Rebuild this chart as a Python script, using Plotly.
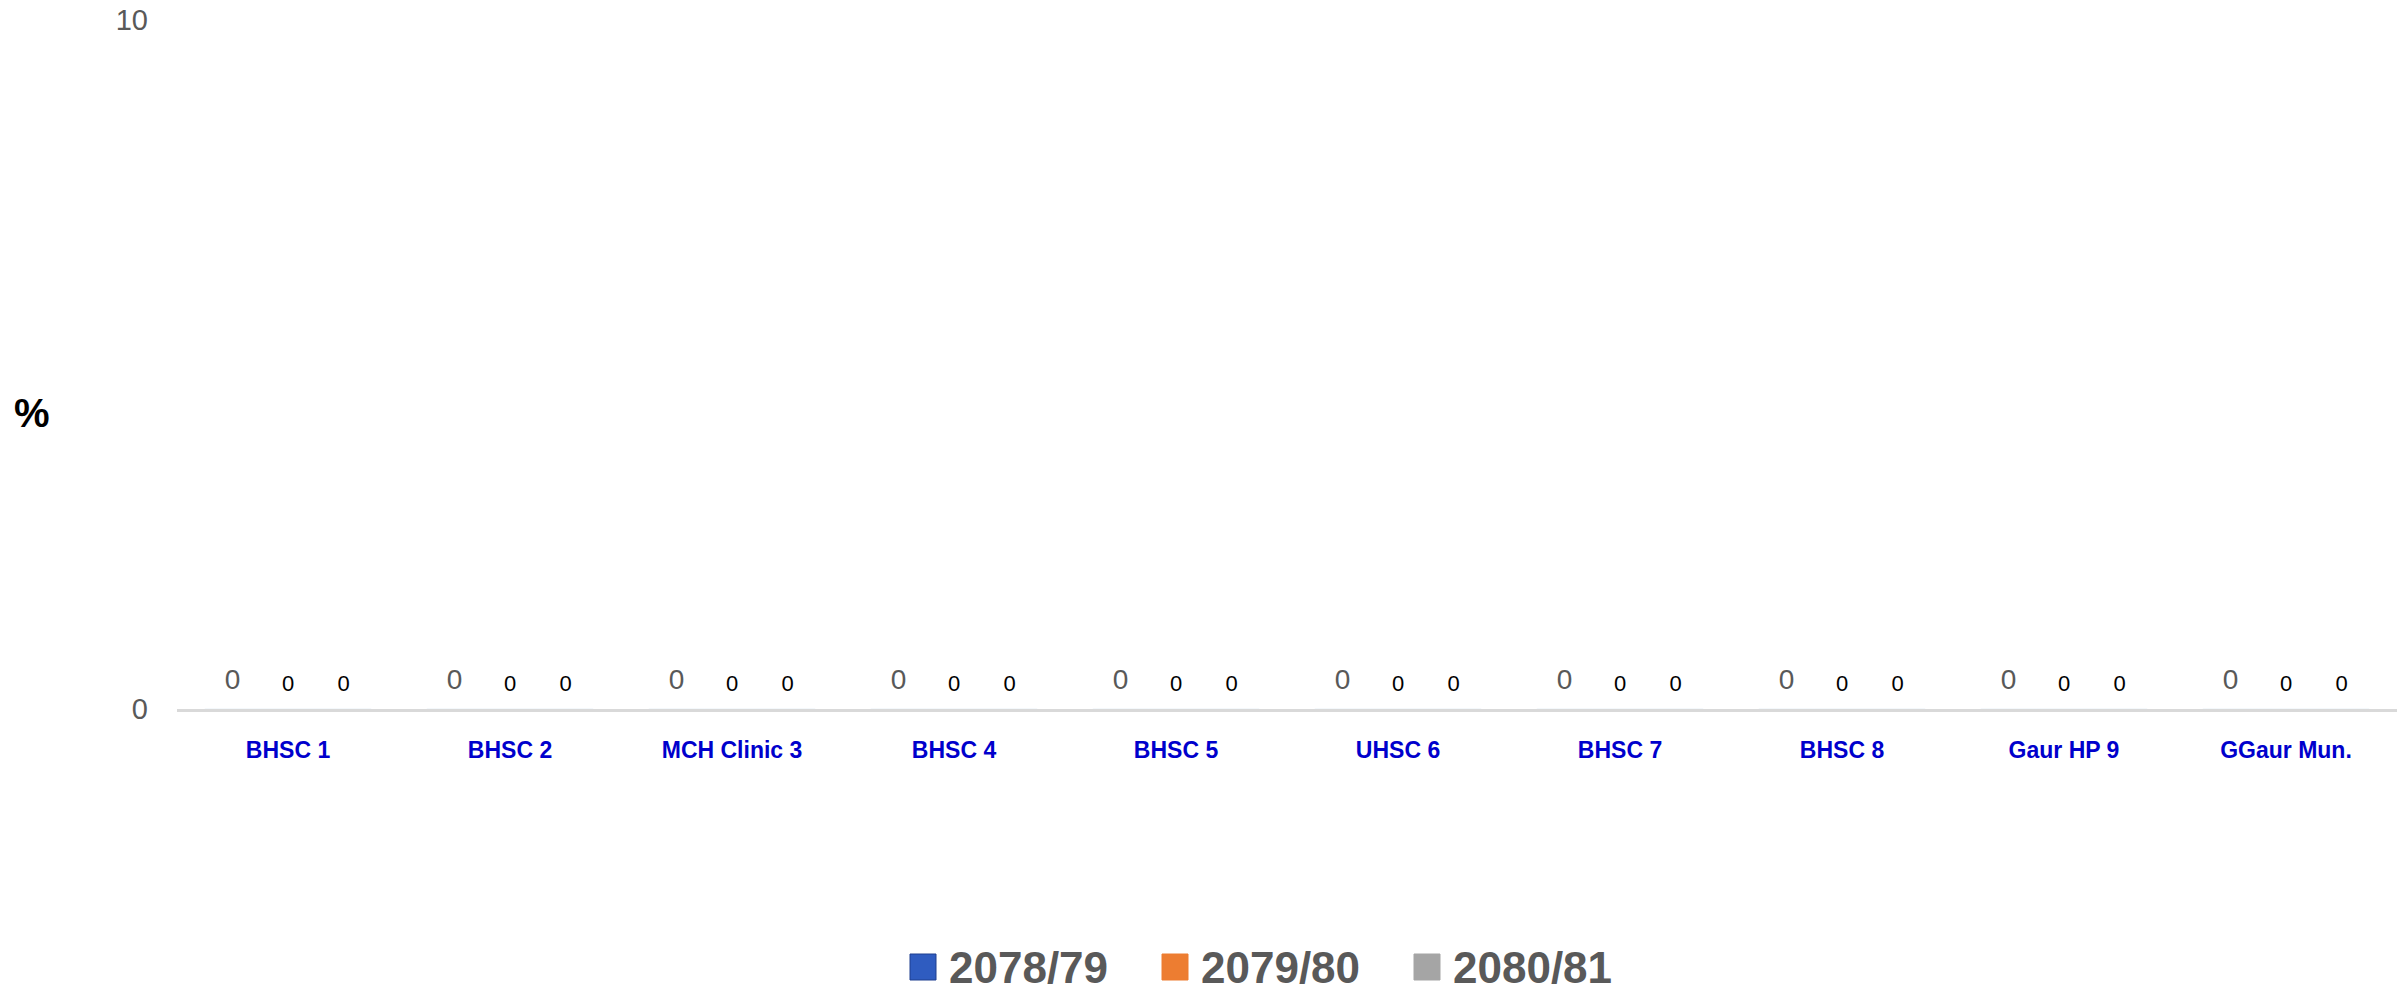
import plotly.graph_objects as go

# Facilities on the x axis
CATEGORIES = [
    "BHSC 1", "BHSC 2", "MCH Clinic 3", "BHSC 4", "BHSC 5",
    "UHSC 6", "BHSC 7", "BHSC 8", "Gaur HP 9", "GGaur Mun.",
]
YEARS = ["2078/79", "2079/80", "2080/81"]
VALUES_7879 = [0, 0, 0, 0, 0, 0, 0, 0, 0, 0]
VALUES_7980 = [0, 0, 0, 0, 0, 0, 0, 0, 0, 0]
VALUES_8081 = [0, 0, 0, 0, 0, 0, 0, 0, 0, 0]

COLORS = ["#2F5CC0", "#ED7D31", "#A5A5A5"]
LABEL_FONTS = [
    dict(size=28, color="#595959"),
    dict(size=22, color="#000000"),
    dict(size=22, color="#000000"),
]

FONT = "Liberation Sans"
GAP = 0.25

# the page body has an 8px margin, so the figure is 8px smaller and
# all pixel positions below are relative to the figure's own corner
OFF = 8
W, H = 2407 - OFF, 994 - OFF
L, R, T, B = 177 - OFF, 10, 20 - OFF, 285
PW, PH = W - L - R, H - T - B

fig = go.Figure()
series = [VALUES_7879, VALUES_7980, VALUES_8081]
for name, vals, color in zip(YEARS, series, COLORS):
    fig.add_trace(go.Bar(
        x=CATEGORIES, y=vals, name=name,
        marker_color=color, showlegend=False,
    ))
# data labels, grouped like the bars and lifted a little off the axis
for name, vals, lf in zip(YEARS, series, LABEL_FONTS):
    fig.add_trace(go.Scatter(
        x=CATEGORIES, y=vals, name=name,
        mode="markers+text", text=vals, textposition="top center",
        marker=dict(size=19, opacity=0),
        textfont=dict(family=FONT, **lf),
        cliponaxis=False, showlegend=False, hoverinfo="skip",
    ))

# legend: big square swatches like the original
shapes, annots = [], []
sw, step, x_start, y_mid = 26, 252, 910 - OFF, 967 - OFF
for i, (name, color) in enumerate(zip(YEARS, COLORS)):
    x0 = x_start + i * step
    shapes.append(dict(
        type="rect", xref="paper", yref="paper",
        x0=(x0 - L) / PW, x1=(x0 + sw - L) / PW,
        y0=(H - B - (y_mid + sw / 2)) / PH, y1=(H - B - (y_mid - sw / 2)) / PH,
        fillcolor=color, line=dict(width=1, color="#1F3F8F" if i == 0 else color),
    ))
    annots.append(dict(
        text=f"<b>{name}</b>", xref="paper", yref="paper",
        x=(x0 + sw + 11 - L) / PW, y=(H - B - y_mid) / PH,
        xanchor="left", yanchor="middle", showarrow=False,
        font=dict(family=FONT, size=44, color="#595959"),
    ))

annots.append(dict(
    text="<b>%</b>", xref="paper", yref="paper",
    x=(32 - OFF - L) / PW, y=(H - B - (413 - OFF)) / PH,
    xanchor="center", yanchor="middle", showarrow=False,
    font=dict(family=FONT, size=40, color="#000000"),
))

fig.update_layout(
    width=W, height=H,
    paper_bgcolor="white", plot_bgcolor="white",
    margin=dict(l=L, r=R, t=T, b=B, autoexpand=False),
    barmode="group", bargap=GAP, bargroupgap=0,
    scattermode="group", scattergap=GAP,
    font=dict(family=FONT),
    showlegend=False,
    shapes=shapes, annotations=annots,
)
fig.update_xaxes(
    showline=True, linecolor="#D9D9D9", linewidth=3,
    showgrid=False, ticks="", automargin=False,
    tickfont=dict(family=FONT, size=23, color="#0000CC", weight="bold"),
    ticklabelstandoff=18,
)
fig.update_yaxes(
    range=[0, 10], dtick=10, showgrid=False, zeroline=False,
    showline=False, ticks="", automargin=False,
    tickfont=dict(family=FONT, size=29, color="#595959"),
    ticklabelstandoff=28, ticklabeloverflow="allow",
)

fig.write_html("out.html")
